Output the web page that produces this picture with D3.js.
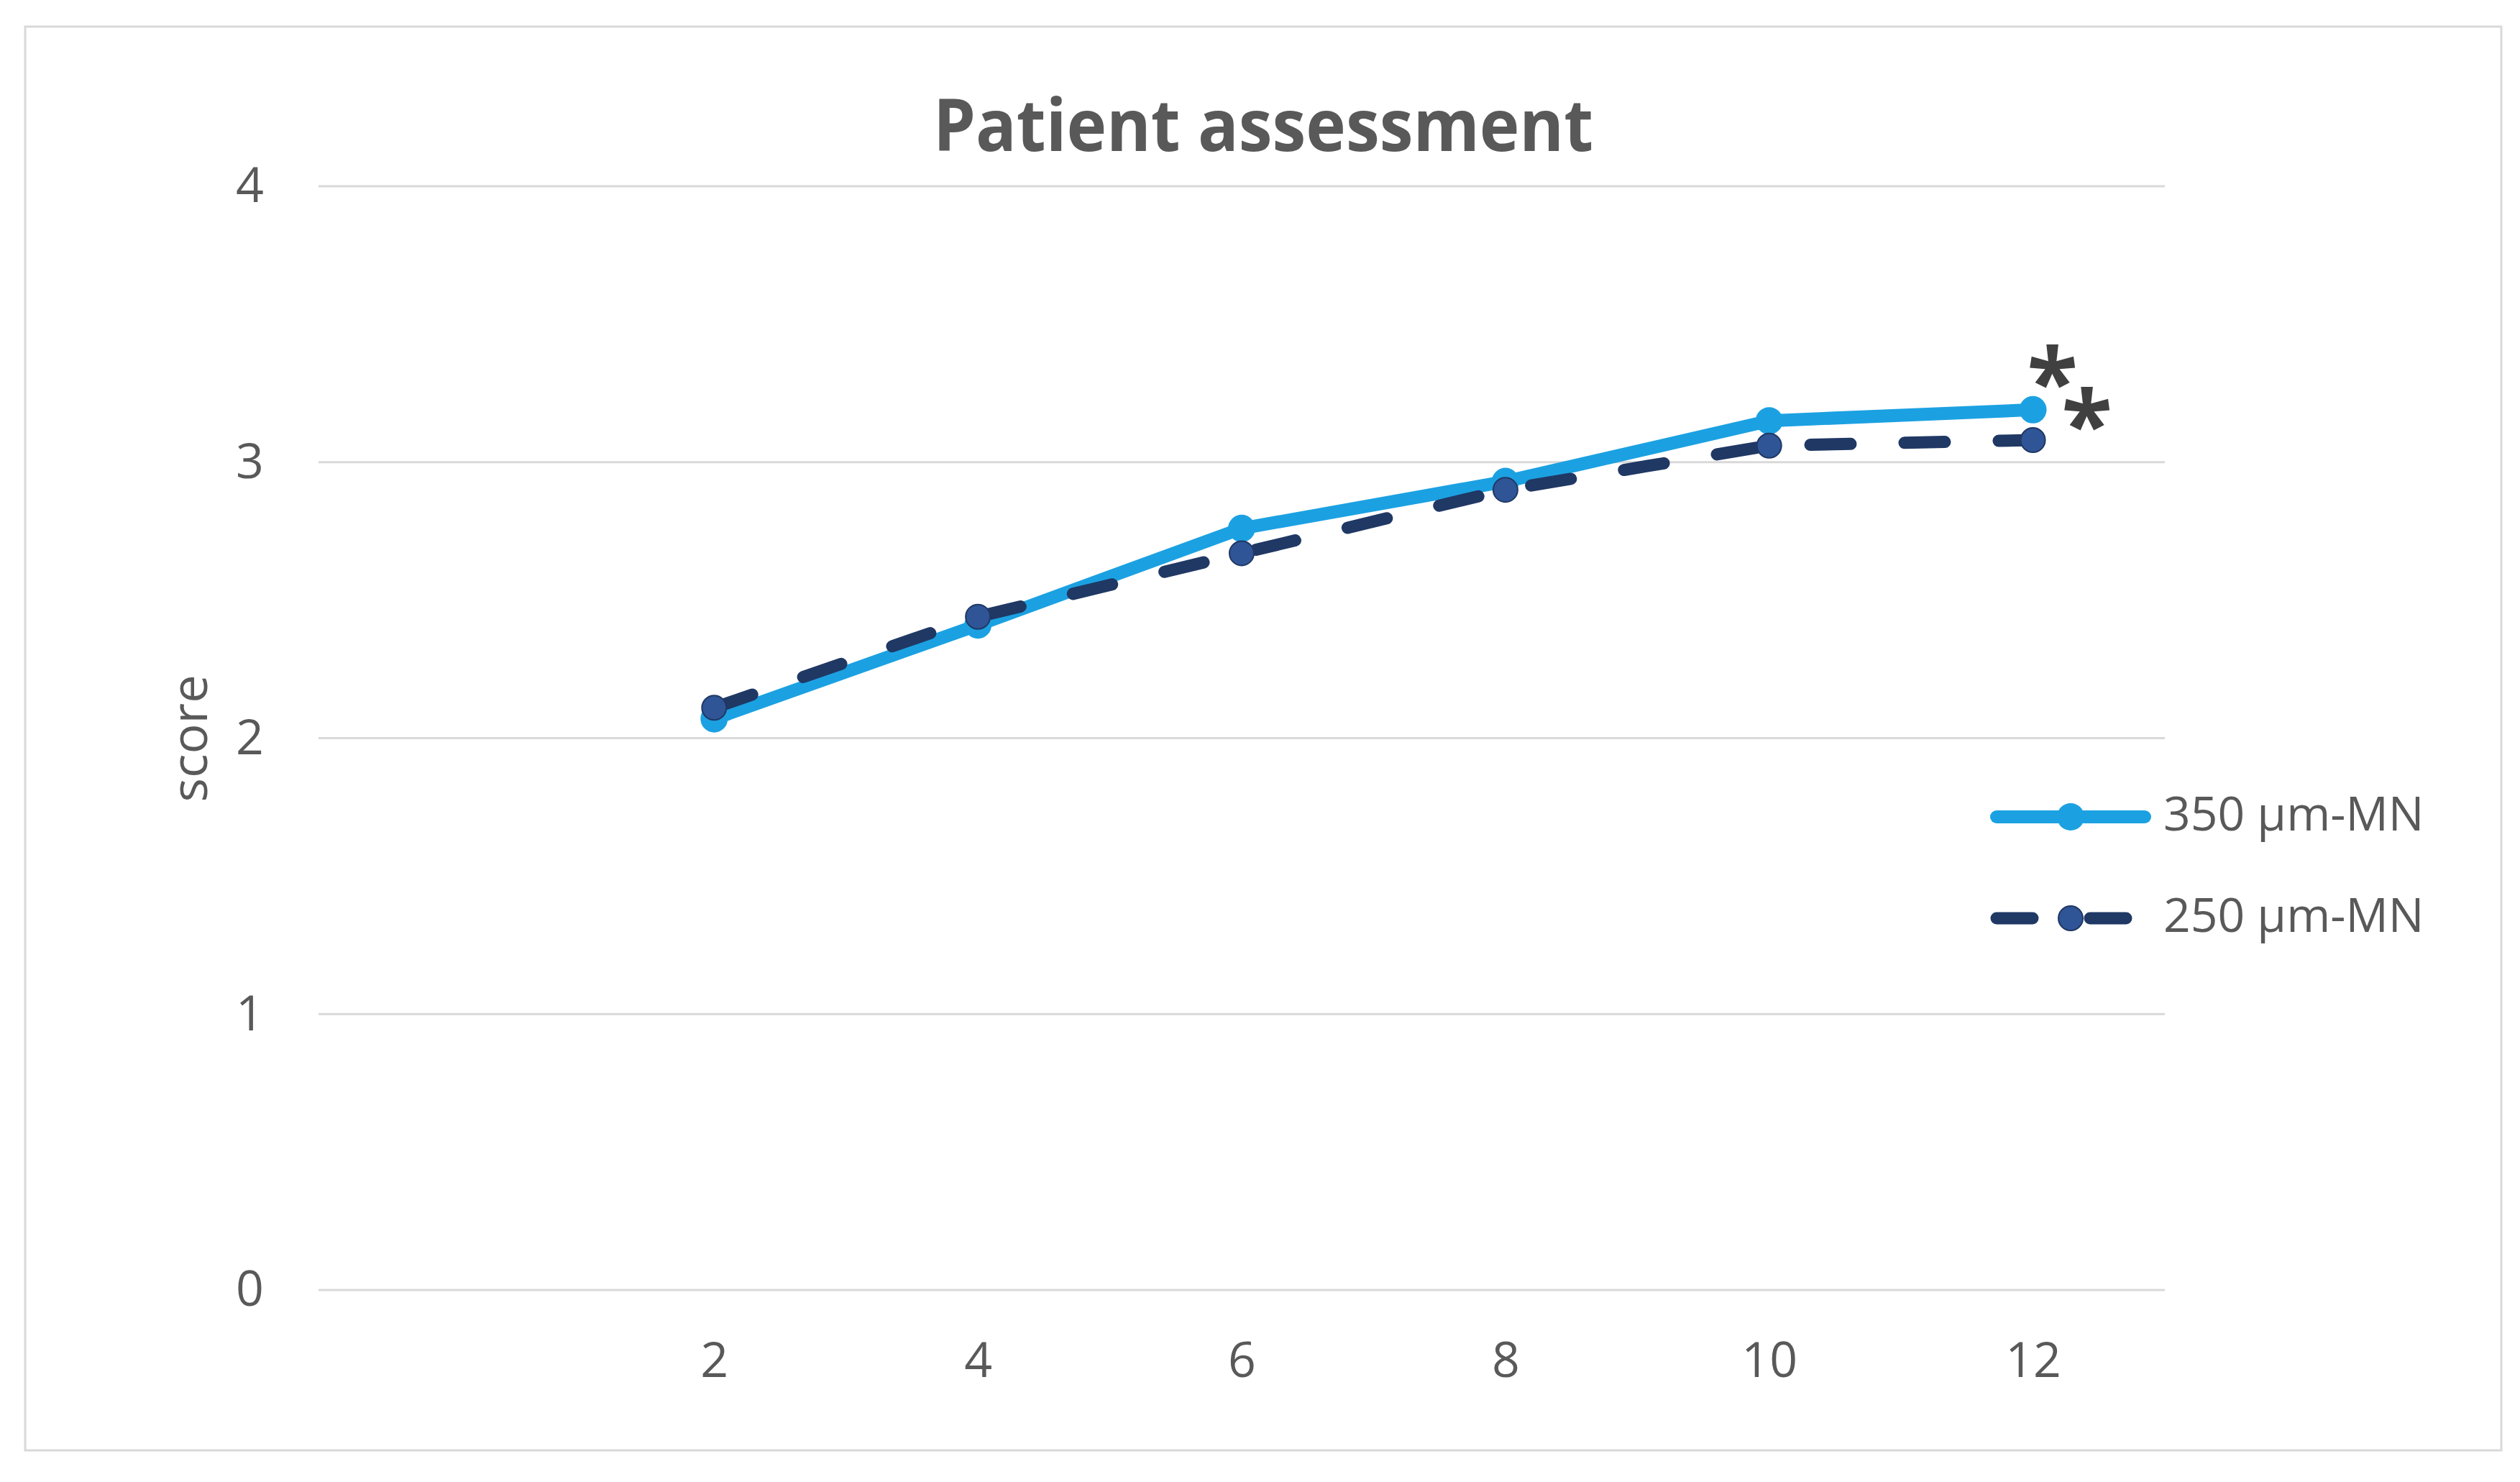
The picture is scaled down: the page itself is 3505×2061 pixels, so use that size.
<!DOCTYPE html>
<html>
<head>
<meta charset="utf-8">
<script src="https://cdn.jsdelivr.net/npm/d3@7"></script>
<style>
  html, body { margin: 0; padding: 0; background: #ffffff; }
  svg { display: block; }
</style>
</head>
<body>
<svg id="chart" width="3505" height="2061"></svg>
<script>
// ---- data ----
const categories = ["", "2", "4", "6", "8", "10", "12"];
const weeks = ["2", "4", "6", "8", "10", "12"];
const series350 = [2.07, 2.41, 2.76, 2.93, 3.15, 3.19];
const series250 = [2.11, 2.44, 2.67, 2.90, 3.06, 3.08];
const seriesNames = ["350 µm-MN", "250 µm-MN"];
const yTicks = [0, 1, 2, 3, 4];
const titleText = "Patient assessment";
const yLabel = "score";
const significanceMarks = ["*", "*"];

// ---- layout ----
const W = 3505, H = 2061;
const plot = { left: 443, right: 3011, top: 259, bottom: 1794 };
const textColor = "#595959";
const gridColor = "#d9d9d9";
const lightBlue = "#1ba1e2";
const darkBlue = "#203864";
const darkMarker = "#2f5597";
const font = "'Open Sans', 'Noto Sans', sans-serif";

const svg = d3.select("#chart");

svg.append("rect").attr("x", 0).attr("y", 0).attr("width", W).attr("height", H).attr("fill", "#ffffff");
// chart border
svg.append("rect")
  .attr("x", 35).attr("y", 37).attr("width", 3479 - 35).attr("height", 2017 - 37)
  .attr("fill", "#ffffff").attr("stroke", gridColor).attr("stroke-width", 3);

const x = d3.scalePoint().domain(categories).range([plot.left, plot.right]).padding(0.5);
const y = d3.scaleLinear().domain([0, 4]).range([plot.bottom, plot.top]);

// gridlines
svg.append("g").selectAll("line").data(yTicks).join("line")
  .attr("x1", plot.left).attr("x2", plot.right)
  .attr("y1", d => y(d)).attr("y2", d => y(d))
  .attr("stroke", gridColor).attr("stroke-width", 3);

// y axis
const yAxis = svg.append("g").attr("transform", `translate(${plot.left},0)`)
  .call(d3.axisLeft(y).tickValues(yTicks).tickSize(0).tickPadding(76).tickFormat(d3.format("d")));
yAxis.select(".domain").remove();
yAxis.selectAll("text").attr("font-family", font).attr("font-size", 68).attr("fill", textColor);

// x axis
const xAxis = svg.append("g").attr("transform", `translate(0,${plot.bottom})`)
  .call(d3.axisBottom(x).tickSize(0).tickPadding(73));
xAxis.select(".domain").remove();
xAxis.selectAll("text").attr("font-family", font).attr("font-size", 68).attr("fill", textColor);

// title
svg.append("text")
  .attr("x", 1757).attr("y", 210)
  .attr("text-anchor", "middle")
  .attr("font-family", font).attr("font-weight", 700).attr("font-size", 101)
  .attr("textLength", 918).attr("lengthAdjust", "spacingAndGlyphs")
  .attr("fill", textColor)
  .text(titleText);

// y label
svg.append("text")
  .attr("transform", "translate(288,1027) rotate(-90)")
  .attr("text-anchor", "middle")
  .attr("font-family", font).attr("font-size", 70)
  .attr("fill", textColor)
  .text(yLabel);

// series
const data350 = weeks.map((w, i) => ({ week: w, value: series350[i] }));
const data250 = weeks.map((w, i) => ({ week: w, value: series250[i] }));
const line = d3.line().x(d => x(d.week)).y(d => y(d.value));

svg.append("path").datum(data350)
  .attr("d", line).attr("fill", "none")
  .attr("stroke", lightBlue).attr("stroke-width", 18)
  .attr("stroke-linejoin", "round").attr("stroke-linecap", "round");
svg.append("g").selectAll("circle").data(data350).join("circle")
  .attr("cx", d => x(d.week)).attr("cy", d => y(d.value)).attr("r", 19)
  .attr("fill", lightBlue);

svg.append("path").datum(data250)
  .attr("d", line).attr("fill", "none")
  .attr("stroke", darkBlue).attr("stroke-width", 17)
  .attr("stroke-dasharray", "56 75")
  .attr("stroke-linejoin", "round").attr("stroke-linecap", "round");
svg.append("g").selectAll("circle").data(data250).join("circle")
  .attr("cx", d => x(d.week)).attr("cy", d => y(d.value)).attr("r", 17)
  .attr("fill", darkMarker).attr("stroke", darkBlue).attr("stroke-width", 2);

// significance asterisks next to the last points
const lastW = weeks[weeks.length - 1];
const lastY = y(series350[series350.length - 1]);
const star = svg.append("text")
  .attr("font-family", font).attr("font-weight", 700).attr("font-size", 130)
  .attr("text-anchor", "middle")
  .attr("fill", "#404040");
star.append("tspan").attr("x", x(lastW) + 27).attr("y", lastY + 7).text(significanceMarks[0]);
star.append("tspan").attr("x", x(lastW) + 75).attr("y", lastY + 66).text(significanceMarks[1]);

// legend
const legendY = [1136, 1277];
const lg = svg.append("g");
// 350
lg.append("line").attr("x1", 2777).attr("x2", 2983).attr("y1", legendY[0]).attr("y2", legendY[0])
  .attr("stroke", lightBlue).attr("stroke-width", 18).attr("stroke-linecap", "round");
lg.append("circle").attr("cx", 2880).attr("cy", legendY[0]).attr("r", 19).attr("fill", lightBlue);
// 250
lg.append("line").attr("x1", 2777).attr("x2", 2984).attr("y1", legendY[1]).attr("y2", legendY[1])
  .attr("stroke", darkBlue).attr("stroke-width", 17).attr("stroke-linecap", "round")
  .attr("stroke-dasharray", "50 80");
lg.append("circle").attr("cx", 2880).attr("cy", legendY[1]).attr("r", 17)
  .attr("fill", darkMarker).attr("stroke", darkBlue).attr("stroke-width", 2);
lg.selectAll("text.lbl").data(seriesNames).join("text").attr("class", "lbl")
  .attr("x", 3009).attr("y", (d, i) => legendY[i] + 19)
  .attr("font-family", font).attr("font-size", 66).attr("fill", textColor)
  .text(d => d);
</script>
</body>
</html>
